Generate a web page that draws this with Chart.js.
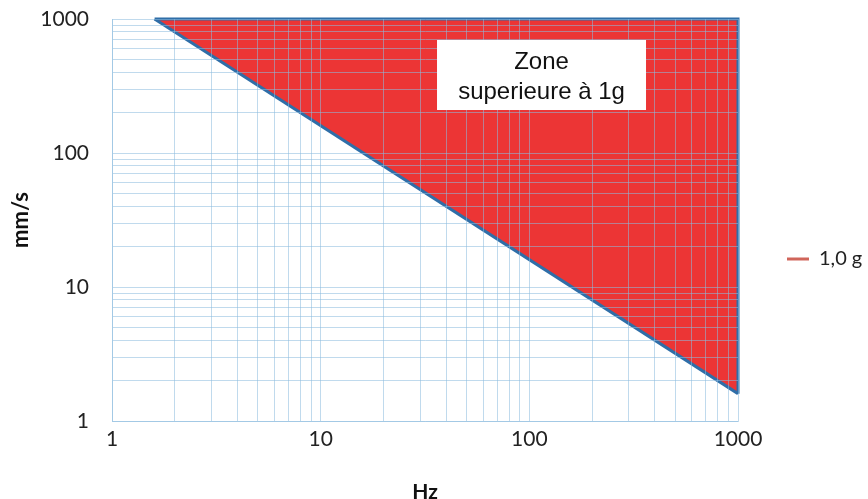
<!DOCTYPE html>
<html>
<head>
<meta charset="utf-8">
<script src="https://cdn.jsdelivr.net/npm/chart.js@4.4.1/dist/chart.umd.min.js"></script>
<style>
  html, body { margin: 0; padding: 0; background: #fff; }
  #wrap { width: 868px; height: 499px; position: relative; }
</style>
</head>
<body>
<div id="wrap"><canvas id="chart"></canvas></div>
<script>
// ── data ──────────────────────────────────────
const tickHz = [1, 10, 100, 1000];          // labelled decades, x
const tickMms = [1, 10, 100, 1000];         // labelled decades, y
const gridSteps = [1, 2, 3, 4, 5, 6, 7, 8, 9];
const freqHz = [1.6, 1000];                 // 1 g limit line
const limitMms = [1000, 1.6];
const edgeHz = [1.6, 1000, 1000];           // top + right edge of the zone
const edgeMms = [1000, 1000, 1.6];
const seriesLabel = '1,0 g';
const zoneText = ['Zone', 'superieure à 1g'];

const FONT = 'Lato, "Liberation Sans", sans-serif';
const RED = '#ec3535';
const BLUE = '#2f6ea8';
const GRID = 'rgba(140,188,222,0.55)';

// every 1..9 step inside each decade -> one gridline each
function logTicks(decades) {
  const out = [];
  decades.forEach((d, i) => {
    if (i === decades.length - 1) { out.push(d); return; }
    gridSteps.forEach(s => out.push(s * d));
  });
  return out;
}

const zoneBox = {
  id: 'zoneBox',
  afterDraw(chart) {
    const { ctx, chartArea: a } = chart;
    const x0 = a.left + (a.right - a.left) * 0.5192, y0 = a.top + 21;
    const w = 209, h = 70;
    ctx.save();
    ctx.fillStyle = '#fff';
    ctx.fillRect(x0, y0, w, h);
    ctx.fillStyle = '#111';
    ctx.font = '24px "Liberation Sans", Arial, sans-serif';
    ctx.textAlign = 'center';
    ctx.textBaseline = 'middle';
    ctx.fillText(zoneText[0], x0 + w / 2, y0 + 22);
    ctx.fillText(zoneText[1], x0 + w / 2, y0 + 52);
    ctx.restore();
  }
};

new Chart(document.getElementById('chart'), {
  type: 'line',
  data: {
    datasets: [
      {
        label: 'edge',
        data: edgeHz.map((x, i) => ({ x, y: edgeMms[i] })),
        borderColor: BLUE, borderWidth: 3, pointRadius: 0, fill: false,
        clip: false, order: 0
      },
      {
        label: seriesLabel,
        data: freqHz.map((x, i) => ({ x, y: limitMms[i] })),
        borderColor: BLUE, borderWidth: 3, pointRadius: 0,
        backgroundColor: RED, fill: 'end', order: 1
      }
    ]
  },
  options: {
    responsive: true, maintainAspectRatio: false, animation: false,
    layout: { padding: { top: 19, right: 0, left: 0, bottom: 0 } },
    plugins: {
      tooltip: { enabled: false },
      legend: {
        position: 'right',
        maxWidth: 130,
        labels: {
          font: { family: FONT, size: 20 }, color: '#222',
          usePointStyle: true, pointStyle: 'line', pointStyleWidth: 22, padding: 49,
          generateLabels: chart => [{
            text: seriesLabel, strokeStyle: '#d0655a', fillStyle: '#d0655a',
            lineWidth: 3, pointStyle: 'line', datasetIndex: 1, hidden: false, fontColor: '#222'
          }]
        }
      }
    },
    scales: {
      x: {
        type: 'logarithmic', min: 1, max: 1000,
        afterFit: s => { s.height = 78; s.paddingRight = 0; },
        afterBuildTicks: s => { s.ticks = logTicks(tickHz).map(v => ({ value: v })); },
        ticks: {
          autoSkip: false, maxRotation: 0, padding: 6, color: '#222',
          font: { family: FONT, size: 21 },
          callback: v => tickHz.includes(v) ? String(v) : ''
        },
        grid: { color: GRID, lineWidth: 1, drawTicks: false, z: 1 },
        border: { color: GRID, z: 2 },
        title: { display: true, text: 'Hz', color: '#111', font: { family: FONT, size: 21, weight: 'bold' }, padding: { top: 6, bottom: -6 } }
      },
      y: {
        type: 'logarithmic', min: 1, max: 1000,
        afterFit: s => { s.width = 112; s.paddingTop = 10; s.paddingBottom = 10; },
        afterBuildTicks: s => { s.ticks = logTicks(tickMms).map(v => ({ value: v })); },
        ticks: {
          autoSkip: false, padding: 23, color: '#222',
          font: { family: FONT, size: 21 },
          callback: v => tickMms.includes(v) ? String(v) : ''
        },
        grid: { color: GRID, lineWidth: 1, drawTicks: false, z: 1 },
        border: { color: GRID, z: 2 },
        title: { display: true, text: 'mm/s', color: '#111', font: { family: FONT, size: 22, weight: 'bold' }, padding: { bottom: 0, top: 8 } }
      }
    }
  },
  plugins: [zoneBox]
});
</script>
</body>
</html>
